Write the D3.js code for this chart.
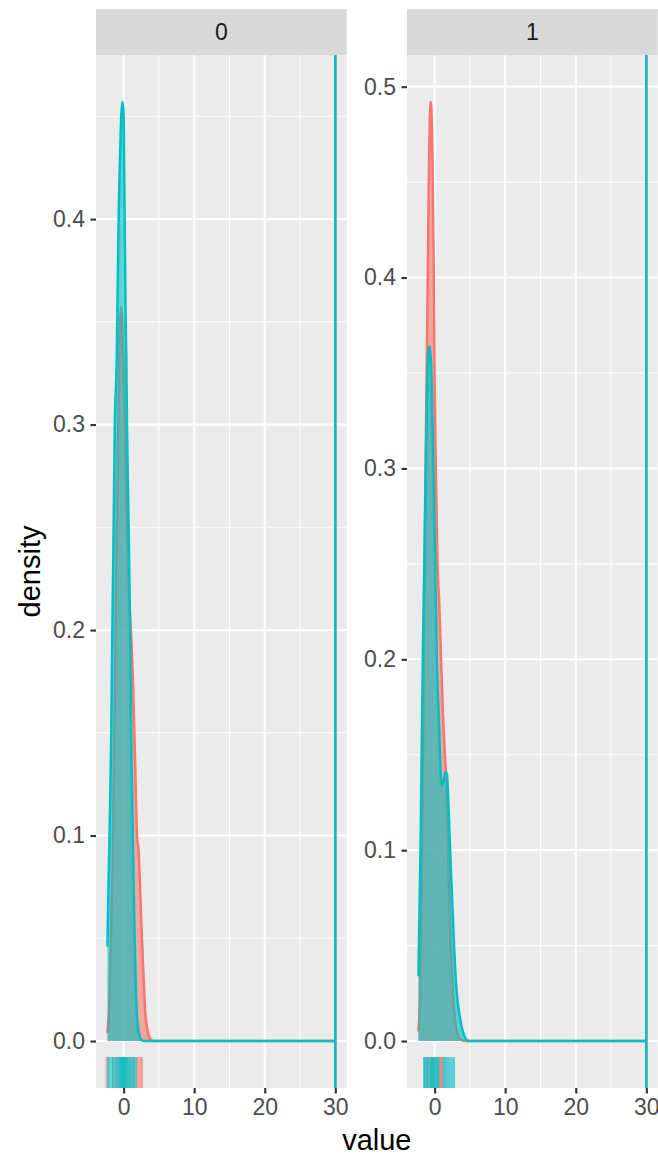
<!DOCTYPE html>
<html>
<head>
<meta charset="utf-8">
<script src="https://cdn.jsdelivr.net/npm/d3@7"></script>
<style>
  html, body { margin: 0; padding: 0; background: #ffffff; }
  svg { display: block; }
  text { font-family: "Liberation Sans", Arial, Helvetica, sans-serif; }
</style>
</head>
<body>
<div id="chart"></div>
<script>
// ---------------- data ----------------
const panels = ["0", "1"];
const groupColors = ["#F8766D", "#00BFC4"];
const xTicks = [0, 10, 20, 30];
const xMinorTicks = [5, 15, 25];
const yTicksPanel0 = [0, 0.1, 0.2, 0.3, 0.4];
const yTicksPanel1 = [0, 0.1, 0.2, 0.3, 0.4, 0.5];
const vlineX = 30;

// density curves: [value, density]
const redPanel0 = [[-2.3,0.004],[-2.0,0.02],[-1.6,0.08],[-1.2,0.18],[-0.9,0.27],[-0.6,0.335],[-0.37,0.357],[-0.15,0.345],[0.1,0.31],[0.4,0.26],[0.8,0.215],[1.1,0.195],[1.33,0.175],[1.6,0.14],[1.9,0.1],[2.13,0.092],[2.3,0.078],[2.46,0.062],[2.84,0.03],[3.08,0.0136],[3.4,0.005],[3.8,0.001],[4.3,0],[30,0]];
const cyanPanel0 = [[-2.3,0.046],[-2.0,0.1],[-1.75,0.15],[-1.6,0.2],[-1.41,0.25],[-1.25,0.3],[-0.99,0.33],[-0.89,0.354],[-0.71,0.4],[-0.47,0.435],[-0.33,0.451],[-0.15,0.457],[0.0,0.451],[0.05,0.435],[0.14,0.4],[0.28,0.354],[0.38,0.33],[0.48,0.3],[0.71,0.25],[0.92,0.2],[1.06,0.15],[1.3,0.1],[1.56,0.05],[1.85,0.015],[2.1,0.005],[2.5,0.0005],[3.0,0],[30,0]];
const redPanel1 = [[-2.3,0.005],[-2.1,0.02],[-1.85,0.07],[-1.6,0.17],[-1.35,0.28],[-1.11,0.356],[-0.97,0.4],[-0.83,0.45],[-0.54,0.492],[-0.26,0.45],[-0.11,0.4],[-0.03,0.356],[0.17,0.3],[0.4,0.252],[0.68,0.227],[0.83,0.21],[1.16,0.173],[1.45,0.15],[1.64,0.138],[1.9,0.1],[2.2,0.06],[2.6,0.025],[3.0,0.008],[3.5,0.0015],[4.2,0],[30,0]];
const cyanPanel1 = [[-2.3,0.034],[-2.0,0.1],[-1.68,0.2],[-1.46,0.25],[-1.25,0.3],[-1.02,0.35],[-0.88,0.36],[-0.74,0.364],[-0.6,0.36],[-0.45,0.35],[-0.17,0.3],[0.07,0.25],[0.31,0.2],[0.64,0.164],[0.78,0.147],[1.02,0.134],[1.3,0.137],[1.55,0.141],[1.74,0.14],[1.95,0.125],[2.2,0.1],[2.75,0.05],[3.1,0.027],[3.6,0.012],[4.3,0.002],[4.8,0],[30,0]];

// rug values
const rugRedPanel0 = [-2.4,-1.5,-1.0,-0.6,-0.3,0,0.3,0.6,1.0,1.4,1.9,2.1,2.4,2.6];
const rugCyanPanel0 = [-2.2,-2.0,-1.7,-1.5,-1.2,-1.0,-0.8,-0.6,-0.45,-0.3,-0.2,-0.1,0,0.1,0.2,0.35,0.5,0.7,0.9,1.1,1.3,1.5,1.7];
const rugRedPanel1 = [-1.4,-1.0,-0.6,-0.3,0.0,0.4,0.75,0.9,1.05,1.15];
const rugCyanPanel1 = [-1.5,-1.3,-1.1,-0.9,-0.7,-0.5,-0.35,-0.2,-0.05,0.1,0.25,0.45,0.6,1.3,1.5,1.7,1.95,2.2,2.5,2.75];

// ---------------- layout ----------------
const W = 658, H = 1157;
const panelTop = 55, panelBottom = 1088, stripTop = 9;
const panelLefts = [96, 407];
const panelWidth = 250.7;
const S = 2.13;   // ggplot base line width at this resolution
const LW = 2.5;   // density / vline line width

const svg = d3.select("#chart").append("svg")
  .attr("width", W).attr("height", H);

const series = [
  { red: redPanel0, cyan: cyanPanel0, rugRed: rugRedPanel0, rugCyan: rugCyanPanel0, yTicks: yTicksPanel0 },
  { red: redPanel1, cyan: cyanPanel1, rugRed: rugRedPanel1, rugCyan: rugCyanPanel1, yTicks: yTicksPanel1 }
];

// shared x scale (fixed), trained on all curves + vline, 5% expansion
const allX = [].concat(...series.map(s => s.red.concat(s.cyan).map(p => p[0])), [vlineX]);
const xMin = d3.min(allX), xMax = d3.max(allX);
const xPad = (xMax - xMin) * 0.05;

panels.forEach((label, i) => {
  const s = series[i];
  const left = panelLefts[i];
  const x = d3.scaleLinear().domain([xMin - xPad, xMax + xPad]).range([left, left + panelWidth]);
  const yMax = d3.max(s.red.concat(s.cyan), p => p[1]);
  const y = d3.scaleLinear().domain([-0.05 * yMax, 1.05 * yMax]).range([panelBottom, panelTop]);

  const g = svg.append("g");
  const clipId = "clip" + i;
  svg.append("clipPath").attr("id", clipId).append("rect")
    .attr("x", left).attr("y", panelTop).attr("width", panelWidth).attr("height", panelBottom - panelTop);

  // panel background
  g.append("rect").attr("x", left).attr("y", panelTop).attr("width", panelWidth)
    .attr("height", panelBottom - panelTop).attr("fill", "#EBEBEB");

  // strip
  g.append("rect").attr("x", left).attr("y", stripTop).attr("width", panelWidth)
    .attr("height", panelTop - stripTop).attr("fill", "#D9D9D9");
  g.append("text").attr("x", left + panelWidth / 2).attr("y", (stripTop + panelTop) / 2)
    .attr("text-anchor", "middle").attr("dominant-baseline", "central")
    .attr("font-size", 23).attr("fill", "#1A1A1A").text(label);

  const grid = g.append("g").attr("clip-path", `url(#${clipId})`);
  // minor grid
  const yStep = s.yTicks[1] - s.yTicks[0];
  const yMinor = s.yTicks.map(t => t + yStep / 2).filter(t => y(t) > panelTop);
  grid.selectAll(".ymin").data(yMinor).join("line")
    .attr("x1", left).attr("x2", left + panelWidth)
    .attr("y1", d => y(d)).attr("y2", d => y(d))
    .attr("stroke", "#fff").attr("stroke-width", S / 2);
  grid.selectAll(".xmin").data(xMinorTicks).join("line")
    .attr("y1", panelTop).attr("y2", panelBottom)
    .attr("x1", d => x(d)).attr("x2", d => x(d))
    .attr("stroke", "#fff").attr("stroke-width", S / 2);
  // major grid
  grid.selectAll(".ymaj").data(s.yTicks).join("line")
    .attr("x1", left).attr("x2", left + panelWidth)
    .attr("y1", d => y(d)).attr("y2", d => y(d))
    .attr("stroke", "#fff").attr("stroke-width", S);
  grid.selectAll(".xmaj").data(xTicks).join("line")
    .attr("y1", panelTop).attr("y2", panelBottom)
    .attr("x1", d => x(d)).attr("x2", d => x(d))
    .attr("stroke", "#fff").attr("stroke-width", S);

  const plot = g.append("g").attr("clip-path", `url(#${clipId})`);
  const area = d3.area().x(d => x(d[0])).y0(y(0)).y1(d => y(d[1])).curve(d3.curveMonotoneX);
  const line = d3.line().x(d => x(d[0])).y(d => y(d[1])).curve(d3.curveMonotoneX);

  [s.red, s.cyan].forEach((curve, k) => {
    plot.append("path").attr("d", area(curve))
      .attr("fill", groupColors[k]).attr("fill-opacity", 0.6).attr("stroke", "none");
    plot.append("path").attr("d", line(curve))
      .attr("fill", "none").attr("stroke", groupColors[k]).attr("stroke-width", LW)
      .attr("stroke-linejoin", "round");
  });

  // rug
  const rugLen = 0.03 * (panelBottom - panelTop);
  [s.rugRed, s.rugCyan].forEach((vals, k) => {
    plot.selectAll(null).data(vals).join("line")
      .attr("x1", d => x(d)).attr("x2", d => x(d))
      .attr("y1", panelBottom).attr("y2", panelBottom - rugLen)
      .attr("stroke", groupColors[k]).attr("stroke-opacity", 0.6).attr("stroke-width", S);
  });

  // vertical line at 30
  groupColors.forEach(c => {
    plot.append("line").attr("x1", x(vlineX)).attr("x2", x(vlineX))
      .attr("y1", panelTop).attr("y2", panelBottom)
      .attr("stroke", c).attr("stroke-width", LW);
  });

  // y axis
  const yAxis = d3.axisLeft(y).tickValues(s.yTicks).tickFormat(d3.format(".1f"))
    .tickSize(5.5).tickPadding(5.5);
  const ya = g.append("g").attr("transform", `translate(${left},0)`).call(yAxis);
  ya.select(".domain").remove();
  ya.selectAll(".tick line").attr("stroke", "#333333").attr("stroke-width", S);
  ya.selectAll(".tick text").attr("fill", "#4D4D4D").attr("font-size", 23)
    .attr("font-family", "Liberation Sans, Arial, sans-serif");

  // x axis
  const xAxis = d3.axisBottom(x).tickValues(xTicks).tickFormat(d3.format("d"))
    .tickSize(5.5).tickPadding(5.5);
  const xa = g.append("g").attr("transform", `translate(0,${panelBottom})`).call(xAxis);
  xa.select(".domain").remove();
  xa.selectAll(".tick line").attr("stroke", "#333333").attr("stroke-width", S);
  xa.selectAll(".tick text").attr("fill", "#4D4D4D").attr("font-size", 23)
    .attr("font-family", "Liberation Sans, Arial, sans-serif");
});

// axis titles
svg.append("text").attr("x", (panelLefts[0] + panelLefts[1] + panelWidth) / 2).attr("y", 1150)
  .attr("text-anchor", "middle").attr("font-size", 29).attr("fill", "#000").text("value");
svg.append("text").attr("transform", `translate(40,${(panelTop + panelBottom) / 2}) rotate(-90)`)
  .attr("text-anchor", "middle").attr("font-size", 29).attr("fill", "#000").text("density");
</script>
</body>
</html>
